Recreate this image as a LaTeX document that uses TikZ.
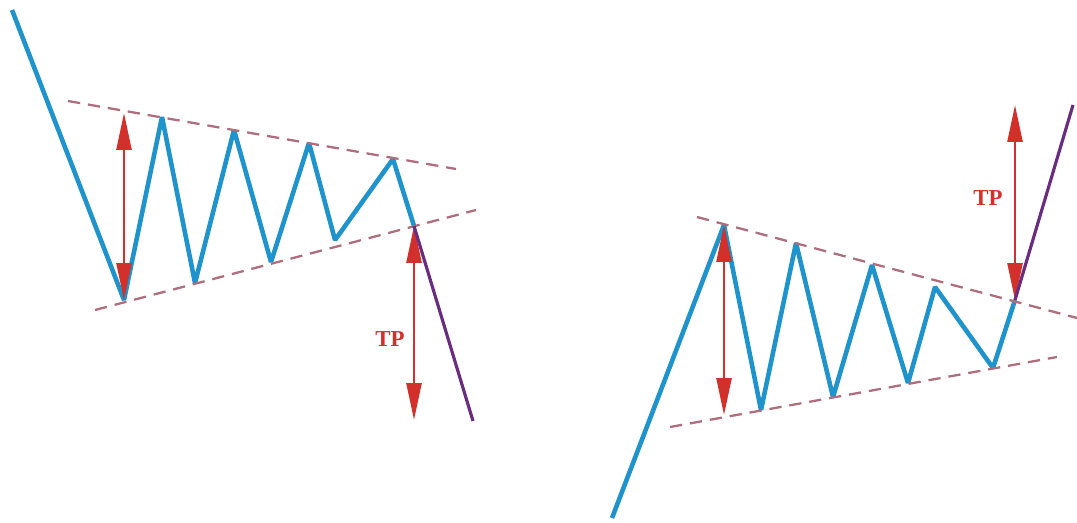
\documentclass[tikz,border=0pt]{standalone}
\usepackage{fontspec}
\newfontfamily\tpfont{Liberation Serif}
\usepackage{tikz}
\usetikzlibrary{arrows.meta, positioning}
\definecolor{waveblue}{HTML}{1E93CC}
\definecolor{breakpurple}{HTML}{6A2C7E}
\definecolor{bounddash}{HTML}{AE6E7C}
\definecolor{targetred}{HTML}{D2302A}

\begin{document}
\begin{tikzpicture}[
    x=0.02cm, y=-0.02cm,
    wave/.style={draw=waveblue, line width=2.6pt, line join=bevel},
    breakout/.style={draw=breakpurple, line width=1.8pt},
    bound/.style={draw=bounddash, line width=1.3pt, dash pattern=on 7pt off 4.5pt},
    target/.style={{Triangle[length=21pt, width=8.5pt]}-{Triangle[length=21pt, width=8.5pt]}, draw=targetred, fill=targetred, line width=1.5pt},
    tplabel/.style={text=targetred, font=\tpfont\fontsize{13}{15}\selectfont\bfseries, inner sep=0pt}
]
    \useasboundingbox (0,0) rectangle (1077,523);

    % Left: falling pennant
    \coordinate (la) at (12,10);
    \coordinate (ll1) at (124,300);
    \coordinate (lp1) at (162,117);
    \coordinate (ll2) at (195,283);
    \coordinate (lp2) at (234,130);
    \coordinate (ll3) at (271,262);
    \coordinate (lp3) at (309,143);
    \coordinate (ll4) at (335,240);
    \coordinate (lp4) at (393,159);
    \coordinate (lb) at (414,226);
    \coordinate (lz) at (473,421);

    \draw[wave] (la) -- (ll1) -- (lp1) -- (ll2) -- (lp2) -- (ll3) -- (lp3) -- (ll4) -- (lp4) -- (lb);
    \draw[bound] (68,101) coordinate (lut) -- (456,169) coordinate (lue);
    \draw[bound] (95,310) coordinate (llt) -- (476,210) coordinate (lle);

    \coordinate (lmast) at (124,113);
    \coordinate (ltp) at (414,420);
    \draw[target] (lmast) -- (ll1);
    \draw[target] (lb) -- (ltp);
    \node[tplabel] (ltplabel) at (390,339) {TP};
    \draw[breakout] (lb) -- (lz);

    % Right: rising pennant
    \coordinate (ra) at (612,518);
    \coordinate (rp1) at (724,225);
    \coordinate (rl1) at (761,410);
    \coordinate (rp2) at (796,243);
    \coordinate (rl2) at (833,397);
    \coordinate (rp3) at (872,265);
    \coordinate (rl3) at (908,383);
    \coordinate (rp4) at (935,287);
    \coordinate (rl4) at (993,368);
    \coordinate (rb) at (1015,300);
    \coordinate (rz) at (1073,105);

    \draw[wave] (ra) -- (rp1) -- (rl1) -- (rp2) -- (rl2) -- (rp3) -- (rl3) -- (rp4) -- (rl4) -- (rb);
    \draw[bound] (697,217) coordinate (rut) -- (1077,318) coordinate (rue);
    \draw[bound] (670,427) coordinate (rlt) -- (1057,357) coordinate (rle);

    \coordinate (rmast) at (724,415);
    \coordinate (rtp) at (1015,105);
    \draw[target] (rp1) -- (rmast);
    \draw[target] (rtp) -- (rb);
    \node[tplabel] (rtplabel) at (988,198) {TP};
    \draw[breakout] (rb) -- (rz);

\end{tikzpicture}
\end{document}
